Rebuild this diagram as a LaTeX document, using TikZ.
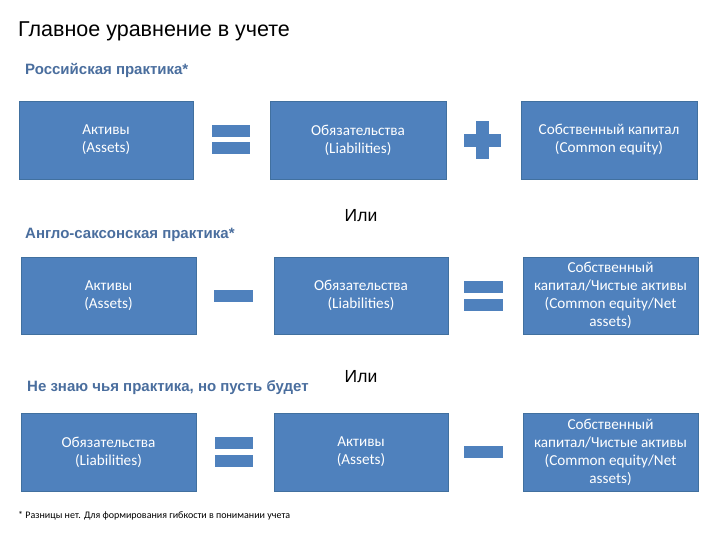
\documentclass[tikz,border=0pt]{standalone}
\usepackage{fontspec}
\setmainfont{Liberation Sans}
\newfontfamily\boxfont{Carlito}
\definecolor{boxblue}{HTML}{4F81BD}
\definecolor{boxedge}{HTML}{41709F}
\definecolor{labblue}{RGB}{74,110,158}
\begin{document}
\begin{tikzpicture}[x=1pt,y=-1pt,
  box/.style={rectangle, fill=boxblue, draw=boxedge, line width=0.6pt, inner sep=0pt,
    text=white, align=center, font=\boxfont\fontsize{15.2}{18}\selectfont},
  sym/.style={rectangle, fill=boxblue, draw=none, inner sep=0pt},
  lab/.style={anchor=base west, inner sep=0pt, text=labblue, font=\bfseries\fontsize{15}{17}\selectfont},
  ili/.style={anchor=base, inner sep=0pt, font=\fontsize{17.5}{20}\selectfont}]
\useasboundingbox (0,0) rectangle (720,540);
\fill[white] (0,0) rectangle (720,540);

\node[anchor=base west, inner sep=0pt, font=\fontsize{21.5}{24}\selectfont] (title) at (18,37) {Главное уравнение в учете};

% Row 1
\node[lab] (l1) at (25,75) {Российская практика*};
\node[box, minimum width=174pt, minimum height=78pt] (a1) at (106,140) {Активы\\(Assets)};
\node[box, minimum width=176pt, minimum height=78pt] (b1) at (358,140) {Обязательства\\(Liabilities)};
\node[box, minimum width=176pt, minimum height=78pt] (c1) at (609,140) {Собственный капитал\\(Common equity)};
\node[sym, minimum width=38pt, minimum height=12pt] (e1a) at (231,131) {};
\node[sym, minimum width=38pt, minimum height=12pt] (e1b) at (231,148.5) {};
\node[sym, minimum width=37pt, minimum height=13pt] (p1h) at (482.5,140.5) {};
\node[sym, minimum width=13pt, minimum height=38pt] (p1v) at (482.5,140) {};

\node[ili] (or1) at (361,222) {Или};

% Row 2
\node[lab] (l2) at (25,238) {Англо-саксонская практика*};
\node[box, minimum width=175pt, minimum height=77pt] (a2) at (108.5,295.5) {Активы\\(Assets)};
\node[box, minimum width=174pt, minimum height=77pt] (b2) at (361,295.5) {Обязательства\\(Liabilities)};
\node[box, minimum width=175pt, minimum height=77pt] (c2) at (610.5,295.5) {Собственный\\капитал/Чистые активы\\(Common equity/Net\\assets)};
\node[sym, minimum width=39pt, minimum height=12pt] (m2) at (233.5,296) {};
\node[sym, minimum width=39pt, minimum height=12pt] (e2a) at (483.5,287) {};
\node[sym, minimum width=39pt, minimum height=12pt] (e2b) at (483.5,305) {};

\node[ili] (or2) at (361,382) {Или};

% Row 3
\node[lab] (l3) at (27,391) {Не знаю чья практика, но пусть будет};
\node[box, minimum width=175pt, minimum height=78pt] (a3) at (108.5,452) {Обязательства\\(Liabilities)};
\node[box, minimum width=174pt, minimum height=78pt] (b3) at (361,452) {Активы\\(Assets)};
\node[box, minimum width=175pt, minimum height=78pt] (c3) at (610.5,452) {Собственный\\капитал/Чистые активы\\(Common equity/Net\\assets)};
\node[sym, minimum width=38pt, minimum height=12pt] (e3a) at (234,443) {};
\node[sym, minimum width=38pt, minimum height=12pt] (e3b) at (234,461) {};
\node[sym, minimum width=39pt, minimum height=12pt] (m3) at (483.5,452) {};

\node[anchor=base west, inner sep=0pt, font=\boxfont\fontsize{10}{12}\selectfont] (fn) at (18,518) {* Разницы нет. Для формирования гибкости в понимании учета};
\end{tikzpicture}
\end{document}
